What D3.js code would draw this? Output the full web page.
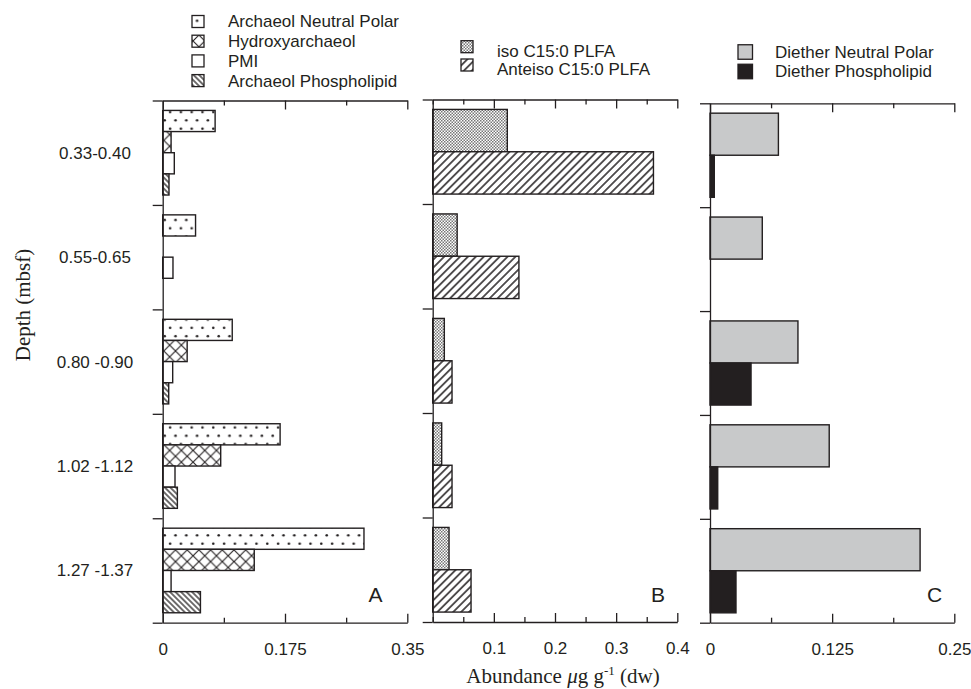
<!DOCTYPE html>
<html>
<head>
<meta charset="utf-8">
<script src="https://cdn.jsdelivr.net/npm/d3@7"></script>
<style>
  body { margin: 0; background: #fff; }
  svg { display: block; }
</style>
</head>
<body>
<svg id="chart" width="971" height="689"></svg>
<script>
// Depth intervals (mbsf)
const depths = ["0.33-0.40", "0.55-0.65", "0.80 -0.90", "1.02 -1.12", "1.27 -1.37"];

// Panel A: archaeols (ug/g dw)
const seriesA = ["Archaeol Neutral Polar", "Hydroxyarchaeol", "PMI", "Archaeol Phospholipid"];
const archaeolNP = [0.075, 0.047, 0.0995, 0.168, 0.288];
const hydroxyarchaeol = [0.012, 0, 0.035, 0.083, 0.131];
const pmi = [0.0166, 0.0147, 0.0143, 0.0176, 0.012];
const archaeolPL = [0.009, 0, 0.0086, 0.021, 0.054];

// Panel B: PLFA
const seriesB = ["iso C15:0 PLFA", "Anteiso C15:0 PLFA"];
const isoPLFA = [0.122, 0.040, 0.019, 0.0147, 0.0267];
const anteisoPLFA = [0.361, 0.141, 0.0316, 0.0316, 0.0627];

// Panel C: diethers
const seriesC = ["Diether Neutral Polar", "Diether Phospholipid"];
const dietherNP = [0.070, 0.0535, 0.090, 0.122, 0.215];
const dietherPL = [0.0044, 0, 0.042, 0.0079, 0.0266];

// x ticks and labels
const ticksA = [0, 0.0875, 0.175, 0.2625, 0.35];
const labelsA = [0, 0.175, 0.35];
const ticksB = [0, 0.05, 0.1, 0.15, 0.2, 0.25, 0.3, 0.35, 0.4];
const labelsB = [0.1, 0.2, 0.3, 0.4];
const ticksC = [0, 0.0625, 0.125, 0.1875, 0.25];
const labelsC = [0, 0.125, 0.25];

const ink = "#231f20";
const sans = "'Liberation Sans', Arial, sans-serif";
const serif = "'Liberation Serif', 'Times New Roman', serif";

const svg = d3.select("#chart");
const defs = svg.append("defs");

// fill patterns
function hatch(id, angle, spacing, width) {
  const p = defs.append("pattern")
    .attr("id", id)
    .attr("patternUnits", "userSpaceOnUse")
    .attr("width", spacing)
    .attr("height", spacing)
    .attr("patternTransform", `rotate(${angle})`);
  p.append("rect").attr("width", spacing).attr("height", spacing).attr("fill", "#fff");
  p.append("line")
    .attr("x1", spacing / 2).attr("y1", 0)
    .attr("x2", spacing / 2).attr("y2", spacing)
    .attr("stroke", ink).attr("stroke-width", width);
}
hatch("back", -45, 3.9, 1.3);
hatch("fwd", 45, 5.6, 1.5);

const cross = defs.append("pattern")
  .attr("id", "cross").attr("patternUnits", "userSpaceOnUse")
  .attr("width", 11.7).attr("height", 11.7);
cross.append("rect").attr("width", 11.7).attr("height", 11.7).attr("fill", "#fff");
cross.append("path").attr("d", "M0,0L11.7,11.7M11.7,0L0,11.7")
  .attr("stroke", ink).attr("stroke-width", 1.1);

const dots = defs.append("pattern")
  .attr("id", "dots").attr("patternUnits", "userSpaceOnUse")
  .attr("width", 10.8).attr("height", 16.6);
dots.append("rect").attr("width", 10.8).attr("height", 16.6).attr("fill", "#fff");
dots.append("circle").attr("cx", 2.7).attr("cy", 4.15).attr("r", 1.3).attr("fill", ink);
dots.append("circle").attr("cx", 8.1).attr("cy", 12.45).attr("r", 1.3).attr("fill", ink);

const checker = defs.append("pattern")
  .attr("id", "checker").attr("patternUnits", "userSpaceOnUse")
  .attr("width", 3).attr("height", 3);
checker.append("rect").attr("width", 3).attr("height", 3).attr("fill", "#fff");
checker.append("rect").attr("width", 1.5).attr("height", 1.5).attr("fill", "#777");
checker.append("rect").attr("x", 1.5).attr("y", 1.5).attr("width", 1.5).attr("height", 1.5).attr("fill", "#777");

const panels = [
  {
    values: [archaeolNP, hydroxyarchaeol, pmi, archaeolPL],
    fills: ["url(#dots)", "url(#cross)", "#fff", "url(#back)"],
    ticks: ticksA, labels: labelsA,
    xr: [162.7, 407.3], yr: [100.5, 622.7],
    letter: "A", letterX: 375.5
  },
  {
    values: [isoPLFA, anteisoPLFA],
    fills: ["url(#checker)", "url(#fwd)"],
    ticks: ticksB, labels: labelsB,
    xr: [432.7, 677.3], yr: [99.5, 622],
    letter: "B", letterX: 658
  },
  {
    values: [dietherNP, dietherPL],
    fills: ["#c8c9ca", ink],
    ticks: ticksC, labels: labelsC,
    xr: [710, 954.3], yr: [103.3, 622.7],
    letter: "C", letterX: 934.7
  }
];

function styleAxis(g) {
  g.selectAll("path, line").attr("stroke", ink).attr("stroke-width", 1.3);
}

panels.forEach((p, pi) => {
  const x = d3.scaleLinear()
    .domain([p.ticks[0], p.ticks[p.ticks.length - 1]])
    .range(p.xr);
  const y = d3.scaleBand()
    .domain(depths)
    .range(p.yr)
    .paddingInner(0.19)
    .paddingOuter(0.095);
  const ySub = d3.scaleBand()
    .domain(d3.range(p.values.length))
    .range([0, y.bandwidth()]);

  const g = svg.append("g");

  const rows = depths.flatMap((d, i) =>
    p.values.map((vals, j) => ({ depth: d, j: j, v: vals[i] }))
  ).filter(r => r.v > 0);

  g.selectAll(".bar")
    .data(rows)
    .enter()
    .append("rect")
    .attr("class", "bar")
    .attr("x", x(0))
    .attr("y", d => y(d.depth) + ySub(d.j))
    .attr("width", d => x(d.v) - x(0))
    .attr("height", ySub.bandwidth())
    .attr("fill", d => p.fills[d.j])
    .attr("stroke", ink)
    .attr("stroke-width", 1.4);

  const minor = p.ticks.filter(t => !p.labels.includes(t));
  const [y0, y1] = p.yr;

  // top axis
  g.append("g")
    .attr("transform", `translate(0,${y0})`)
    .call(d3.axisTop(x).tickValues(p.labels).tickSizeInner(-9).tickSizeOuter(0).tickFormat(""))
    .call(styleAxis);
  g.append("g")
    .attr("transform", `translate(0,${y0})`)
    .call(d3.axisTop(x).tickValues(minor).tickSizeInner(-5).tickSizeOuter(0).tickFormat(""))
    .call(g => g.select(".domain").remove())
    .call(styleAxis);

  // bottom axis
  g.append("g")
    .attr("transform", `translate(0,${y1})`)
    .call(d3.axisBottom(x).tickValues(p.labels).tickSizeInner(-9).tickSizeOuter(0).tickFormat(""))
    .call(styleAxis);
  g.append("g")
    .attr("transform", `translate(0,${y1})`)
    .call(d3.axisBottom(x).tickValues(minor).tickSizeInner(-5).tickSizeOuter(0).tickFormat(""))
    .call(g => g.select(".domain").remove())
    .call(styleAxis);
  const lab = g.append("g")
    .attr("transform", `translate(0,${y1})`)
    .call(d3.axisBottom(x).tickValues(p.labels).tickSize(0).tickPadding(20).tickFormat(d => String(d)));
  lab.select(".domain").remove();
  lab.attr("font-family", sans).attr("font-size", 17);
  lab.selectAll("text").attr("fill", ink);

  // left axis with ticks at band boundaries
  const yi = d3.scaleLinear().domain([0, depths.length]).range(p.yr);
  g.append("g")
    .attr("transform", `translate(${p.xr[0]},0)`)
    .call(d3.axisLeft(yi).tickValues(d3.range(depths.length + 1)).tickSizeInner(10).tickSizeOuter(0).tickFormat(""))
    .call(styleAxis);

  // depth labels (left panel only)
  if (pi === 0) {
    g.selectAll(".depth")
      .data(depths)
      .enter()
      .append("text")
      .attr("class", "depth")
      .attr("x", 95)
      .attr("y", d => y(d) + y.bandwidth() / 2)
      .attr("dy", "0.35em")
      .attr("text-anchor", "middle")
      .attr("font-family", sans)
      .attr("font-size", 17)
      .attr("fill", ink)
      .text(d => d);
  }

  g.append("text")
    .attr("x", p.letterX)
    .attr("y", 594.5)
    .attr("dy", "0.35em")
    .attr("text-anchor", "middle")
    .attr("font-family", sans)
    .attr("font-size", 21)
    .attr("fill", ink)
    .text(p.letter);
});

// legends
const legends = [
  { names: seriesA, fills: panels[0].fills, x: 192, tx: 228, y: 21.5, step: 19.7, size: 12, iconDy: 0 },
  { names: seriesB, fills: panels[1].fills, x: 461, tx: 497, y: 50.7, step: 18.3, size: 12, iconDy: -4 },
  { names: seriesC, fills: panels[2].fills, x: 738, tx: 775, y: 52, step: 19.5, size: 14.5, iconDy: 0 }
];
legends.forEach(l => {
  const lg = svg.append("g");
  l.names.forEach((name, i) => {
    const cy = l.y + i * l.step;
    lg.append("rect")
      .attr("x", l.x)
      .attr("y", cy + l.iconDy - l.size / 2)
      .attr("width", l.size)
      .attr("height", l.size)
      .attr("fill", l.fills[i])
      .attr("stroke", ink)
      .attr("stroke-width", 1.3);
    lg.append("text")
      .attr("x", l.tx)
      .attr("y", cy)
      .attr("dy", "0.35em")
      .attr("font-family", sans)
      .attr("font-size", 17)
      .attr("fill", ink)
      .text(name);
  });
});

// axis titles
svg.append("text")
  .attr("transform", "translate(23,305) rotate(-90)")
  .attr("dy", "0.35em")
  .attr("text-anchor", "middle")
  .attr("font-family", serif)
  .attr("font-size", 21)
  .attr("fill", ink)
  .text("Depth (mbsf)");

const xt = svg.append("text")
  .attr("x", 563)
  .attr("y", 676)
  .attr("dy", "0.35em")
  .attr("text-anchor", "middle")
  .attr("font-family", serif)
  .attr("font-size", 21)
  .attr("fill", ink);
xt.append("tspan").text("Abundance ");
xt.append("tspan").attr("font-style", "italic").text("\u03bc");
xt.append("tspan").text("g g");
xt.append("tspan").attr("font-size", 13).attr("dy", -8).text("-1");
xt.append("tspan").attr("dy", 8).text(" (dw)");
</script>
</body>
</html>
